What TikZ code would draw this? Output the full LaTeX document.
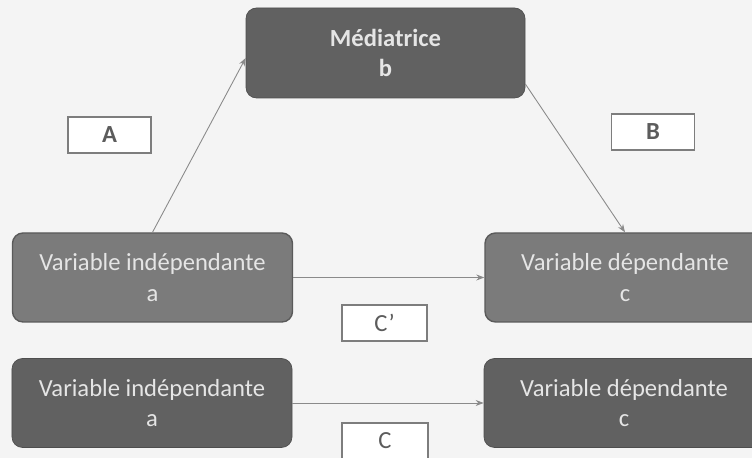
\documentclass[tikz,border=0pt]{standalone}
\usepackage{fontspec}
\setmainfont{Carlito}
\usepackage{xcolor}
\usepackage{tikz}
\usetikzlibrary{arrows.meta, positioning}
\definecolor{pagegray}{HTML}{F4F4F4}
\definecolor{darkbox}{HTML}{616161}
\definecolor{lightbox}{HTML}{7B7B7B}
\definecolor{edgegray}{HTML}{5A5A5A}
\definecolor{linkgray}{HTML}{8A8A8A}
\definecolor{labelgray}{HTML}{5C5C5C}

\begin{document}
\begin{tikzpicture}[
  varbox/.style={rounded corners=6pt, minimum width=5.6cm, minimum height=1.78cm,
    align=center, font=\fontsize{14}{17.5}\selectfont, text=white!90!black},
  darkvar/.style={varbox, fill=darkbox, draw=darkbox!80!black},
  lightvar/.style={varbox, fill=lightbox, draw=edgegray, line width=0.8pt},
  tag/.style={draw=labelgray!80, fill=white, line width=0.8pt, minimum width=1.66cm,
    minimum height=0.72cm, text=labelgray, font=\fontsize{14}{15}\selectfont},
  link/.style={draw=linkgray, line width=0.5pt, -{Stealth[length=1.6mm, width=1.2mm]}},
]
  \clip (0,0) rectangle (15.04,9.16);
  \fill[pagegray] (0,0) rectangle (15.04,9.16);

  % Mediator
  \node[darkvar, minimum width=5.58cm, minimum height=1.8cm,
    font=\fontsize{14}{17.5}\selectfont\bfseries] (med) at (7.71, 8.10) {Médiatrice\\b};

  % Model with mediator
  \node[lightvar] (vi1) at (3.05, 3.61) {Variable indépendante\\a};
  \node[lightvar] (vd1) at (12.5, 3.61) {Variable dépendante\\c};

  % Total effect
  \node[darkvar] (vi2) at (3.04, 1.10) {Variable indépendante\\a};
  \node[darkvar] (vd2) at (12.48, 1.10) {Variable dépendante\\c};

  % Paths
  \draw[link] (vi1.north) -- ([yshift=-0.1cm]med.west);
  \draw[link] ([yshift=-0.62cm]med.east) -- (vd1.north);
  \draw[link] (vi1.east) -- (vd1.west);
  \draw[link] (vi2.east) -- (vd2.west);

  % Labels
  \node[tag, font=\fontsize{14}{15}\selectfont\bfseries] (tagA) at (2.19, 6.46) {A};
  \node[tag, font=\fontsize{14}{15}\selectfont\bfseries] (tagB) at (13.06, 6.52) {B};
  \node[tag, minimum width=1.7cm] (tagCp) at (7.69, 2.70) {C’};
  \node[tag, minimum width=1.72cm] (tagC) at (7.70, 0.34) {C};

\end{tikzpicture}
\end{document}
